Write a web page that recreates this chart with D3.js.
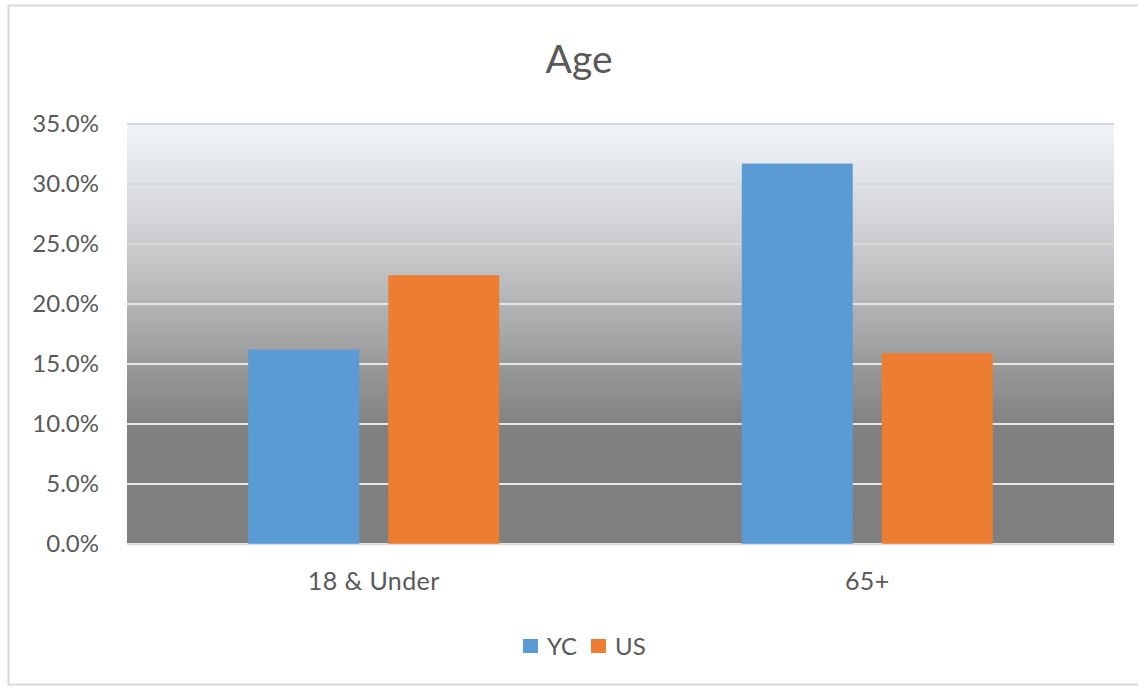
<!DOCTYPE html>
<html><head><meta charset="utf-8">
<script src="https://cdn.jsdelivr.net/npm/d3@7"></script>
<style>body{margin:0;background:#fff;}svg{display:block;font-family:Lato,"Open Sans",sans-serif;}</style>
</head><body><svg id="c" width="1138" height="687"></svg>
<script>
const categories = ["18 & Under", "65+"];
const seriesNames = ["YC", "US"];
const ycValues = [0.162, 0.317];
const usValues = [0.224, 0.159];
const yTicks = [0, 0.05, 0.10, 0.15, 0.20, 0.25, 0.30, 0.35];
const colors = ["#5b9bd5", "#ed7d31"];

const svg = d3.select("#c");
const m = {left: 127, right: 1114, top: 124, bottom: 544};
const FONT = "Lato,'Open Sans',sans-serif";

svg.append("rect").attr("x", 8.5).attr("y", 5.5).attr("width", 1140).attr("height", 679)
  .attr("fill", "#fff").attr("stroke", "#d9d9d9").attr("stroke-width", 2);

const defs = svg.append("defs");
const g = defs.append("linearGradient").attr("id", "bg").attr("x1", 0).attr("y1", 0).attr("x2", 0).attr("y2", 1);
g.append("stop").attr("offset", "0").attr("stop-color", "#f1f5f9");
g.append("stop").attr("offset", "0.3").attr("stop-color", "#c9cacc");
g.append("stop").attr("offset", "0.72").attr("stop-color", "#808080");
g.append("stop").attr("offset", "1").attr("stop-color", "#7f7f7f");

const y = d3.scaleLinear().domain([0, 0.35]).range([m.bottom, m.top]);
const x0 = d3.scaleBand().domain(categories).range([m.left, m.right]).paddingInner(0).paddingOuter(0);
const barW = 111, gap = 29;

svg.append("rect").attr("x", m.left).attr("y", m.top).attr("width", m.right - m.left).attr("height", m.bottom - m.top)
  .attr("fill", "url(#bg)");

// gridlines
svg.append("g").selectAll("line").data(yTicks).join("line")
  .attr("x1", m.left).attr("x2", m.right)
  .attr("y1", d => y(d)).attr("y2", d => y(d))
  .attr("stroke", (d) => d >= 0.25 ? "#d6d8db" : "#e6e6e6").attr("stroke-width", 2);

// y axis labels
const yAxis = d3.axisLeft(y).tickValues(yTicks).tickFormat(d3.format(".1%")).tickSize(0).tickPadding(28);
const ya = svg.append("g").attr("transform", `translate(${m.left},0)`).call(yAxis);
ya.select(".domain").remove();
ya.selectAll("text").attr("font-size", 24).attr("fill", "#595959").attr("font-family", FONT);

// bars
const data = categories.map((c, i) => ({c, vals: [ycValues[i], usValues[i]]}));
const groups = svg.append("g").selectAll("g").data(data).join("g");
groups.selectAll("rect").data(d => d.vals.map((v, j) => ({c: d.c, v, j}))).join("rect")
  .attr("x", d => x0(d.c) + x0.bandwidth() / 2 - (2 * barW + gap) / 2 + d.j * (barW + gap))
  .attr("width", barW)
  .attr("y", d => y(d.v))
  .attr("height", d => y(0) - y(d.v))
  .attr("fill", d => colors[d.j]);

// x axis labels
const xAxis = d3.axisBottom(x0).tickSize(0).tickPadding(28);
const xa = svg.append("g").attr("transform", `translate(0,${m.bottom})`).call(xAxis);
xa.select(".domain").attr("stroke", "#d9d9d9").attr("stroke-width", 1.5);
xa.selectAll("text").attr("font-size", 25).attr("fill", "#595959").attr("font-family", FONT)
  .attr("letter-spacing", 0.4);

// title
svg.append("text").attr("x", 579).attr("y", 73).attr("text-anchor", "middle")
  .attr("font-size", 39).attr("fill", "#595959").text("Age");

// legend
const leg = svg.append("g");
const legX = [523, 591];
seriesNames.forEach((s, i) => {
  leg.append("rect").attr("x", legX[i]).attr("y", 639).attr("width", 15).attr("height", 14).attr("fill", colors[i]);
  leg.append("text").attr("x", legX[i] + 24).attr("y", 655).attr("font-size", 24).attr("fill", "#595959").text(s);
});
</script></body></html>
